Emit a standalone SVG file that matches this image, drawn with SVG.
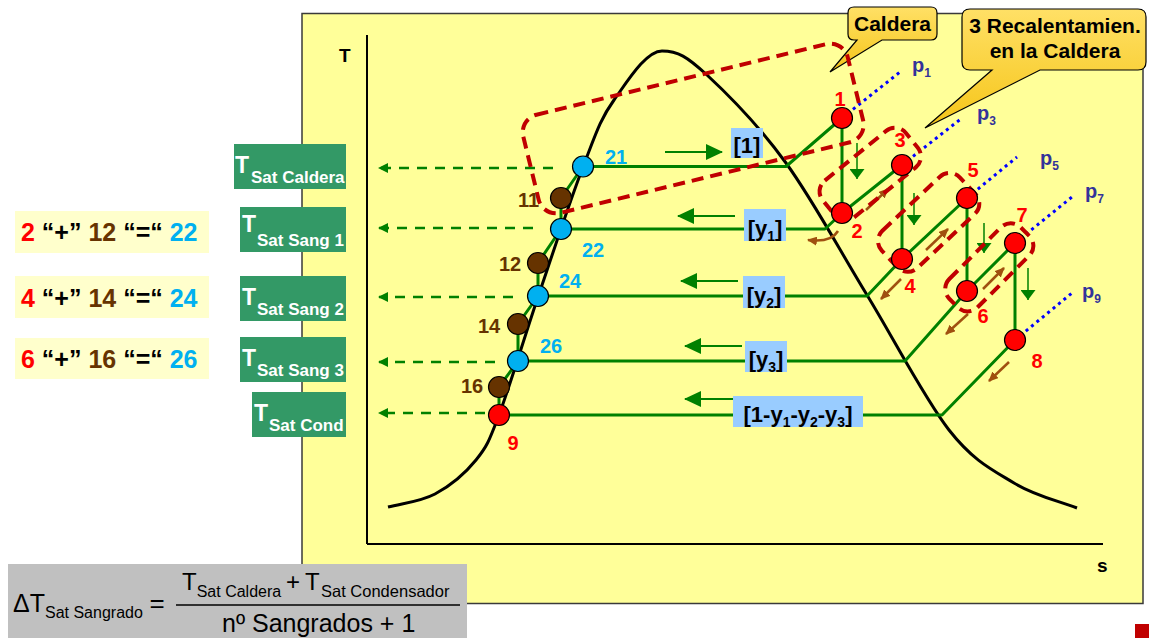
<svg xmlns="http://www.w3.org/2000/svg" width="1149" height="638" viewBox="0 0 1149 638">
<defs>
<style>
.t{font-family:"Liberation Sans",Arial,sans-serif;font-weight:bold}
.f{font-family:"Liberation Sans",Arial,sans-serif}
.cyc{stroke:#008000;stroke-width:3;fill:none;stroke-linejoin:round}
.dash{stroke:#008000;stroke-width:2.5;stroke-dasharray:10 8;fill:none;marker-end:url(#dah)}
.rbox{fill:none;stroke:#c00000;stroke-width:4;stroke-dasharray:12 7}
.iso{stroke:#0000ff;stroke-width:3;stroke-dasharray:3 4;fill:none}
.pR{fill:#ff0000;stroke:#000;stroke-width:1.2}
.pB{fill:#00b0f0;stroke:#000;stroke-width:1.2}
.pN{fill:#663300;stroke:#000;stroke-width:1.2}
.garr{stroke:#008000;stroke-width:2;fill:none;marker-end:url(#gah)}
.vdn{stroke:#008000;stroke-width:1.5;fill:none;marker-end:url(#gdn)}
.barr{stroke:#a0500f;stroke-width:2.5;fill:none;marker-end:url(#bah)}
.lbl{fill:#99ccff}
.tsat{fill:#339966}
.tw{fill:#ffffff}
.red{fill:#ff0000}
.blu{fill:#00b0f0}
.brn{fill:#663300}
.pl{fill:#333399}
.eq{fill:#ffffcc}
.call{fill:url(#gold);stroke:#000;stroke-width:1.2}
</style>
<linearGradient id="gold" x1="0" y1="0" x2="0" y2="1">
<stop offset="0" stop-color="#ffe066"/>
<stop offset="1" stop-color="#f5c518"/>
</linearGradient>
<marker id="gah" viewBox="0 0 17 16" refX="16" refY="8" markerWidth="17" markerHeight="16" markerUnits="userSpaceOnUse" orient="auto">
<path d="M0,0 L17,8 L0,16 Z" fill="#008000"/>
</marker>
<marker id="gdn" viewBox="0 0 10 15" refX="10" refY="7.5" markerWidth="10" markerHeight="15" markerUnits="userSpaceOnUse" orient="auto">
<path d="M0,0 L10,7.5 L0,15 Z" fill="#008000"/>
</marker>
<marker id="bah" viewBox="0 0 10 9" refX="9" refY="4.5" markerWidth="10" markerHeight="9" markerUnits="userSpaceOnUse" orient="auto">
<path d="M0,0 L10,4.5 L0,9 Z" fill="#a0500f"/>
</marker>
<marker id="dah" viewBox="0 0 10 10" refX="9" refY="5" markerWidth="10" markerHeight="10" markerUnits="userSpaceOnUse" orient="auto">
<path d="M0,0 L10,5 L0,10 Z" fill="#008000"/>
</marker>
</defs>

<rect x="302" y="13.5" width="841" height="590" fill="#ffff99" stroke="#3a3a3a" stroke-width="1.5"/>

<g id="axes">
<line x1="367" y1="35" x2="367" y2="544" stroke="#000" stroke-width="2"/>
<line x1="367" y1="544" x2="1103" y2="544" stroke="#000" stroke-width="2"/>
<text class="t" x="339" y="62" font-size="19">T</text>
<text class="t" x="1097" y="572" font-size="19">s</text>
</g>

<g id="dome">
<path d="M388,507 C404,503 420.3,501.8 435,494 C449.7,486.2 465.3,473.2 476,460 C486.7,446.8 488.7,442.2 499,415 C509.3,387.8 524,338.3 538,297 C552,255.7 570.3,199.8 583,167 C595.7,134.2 600.2,119.2 614,100 C627.8,80.8 646,51 662,51 C678,51 687,56.5 707,75 C727,93.5 759.3,126.3 786,163 C812.7,199.7 839.8,250.5 867,295 C894.2,339.5 924.5,398.7 949,430 C973.5,461.3 992.7,470 1014,483 C1035.3,496 1056,500 1077,508" fill="none" stroke="#000" stroke-width="3"/>
</g>

<g id="connectors">
<path class="cyc" d="M583,166.5 H786 L842,118"/>
<path class="cyc" d="M842,118 V213"/>
<path class="cyc" d="M561,229 H825 L842,213"/>
<path class="cyc" d="M842,213 L902,165"/>
<path class="cyc" d="M902,165 V259"/>
<path class="cyc" d="M538,296 H867 L902,259"/>
<path class="cyc" d="M902,259 L967,198"/>
<path class="cyc" d="M967,198 V291"/>
<path class="cyc" d="M518,361 H905 L967,291"/>
<path class="cyc" d="M967,291 L1015,243"/>
<path class="cyc" d="M1015,243 V340"/>
<path class="cyc" d="M499,415 H942 L1015,340"/>
<path class="cyc" d="M499,415 V387 L518,361 V324 L538,296 V263 L561,229 V198 L583,166.5"/>
<path class="dash" d="M553,168 H379"/>
<path class="dash" d="M533,228 H379"/>
<path class="dash" d="M513,297 H379"/>
<path class="dash" d="M495,362 H379"/>
<path class="dash" d="M485,413 H379"/>
<path class="iso" d="M842,118 L900,72"/>
<path class="iso" d="M902,165 L962,118"/>
<path class="iso" d="M967,198 L1017,157"/>
<path class="iso" d="M1015,243 L1072,197"/>
<path class="iso" d="M1015,340 L1072,293"/>
<path class="garr" d="M665,152 H722"/>
<path class="garr" d="M735,216 H678"/>
<path class="garr" d="M738,281 H681"/>
<path class="garr" d="M742,346 H685"/>
<path class="garr" d="M735,399 H685"/>
<path class="vdn" d="M857,143 V179"/>
<path class="vdn" d="M914,193 V225"/>
<path class="vdn" d="M984,223 V253"/>
<path class="vdn" d="M1028,268 V300"/>
<path class="barr" d="M866,210 L888,189"/>
<path class="barr" d="M926,250 L948,229"/>
<path class="barr" d="M983,289 L1004,268"/>
<path class="barr" d="M901,279 L881,299"/>
<path class="barr" d="M968,314 L946,334"/>
<path class="barr" d="M1009,362 L989,381"/>
<path class="barr" d="M838,231 Q831,243 808,240"/>
</g>

<g id="callout-caldera">
<path class="call" d="M854,7 H931 Q937,7 937,13 V34 Q937,40 931,40 H882 L830,72 L857,40 H854 Q848,40 848,34 V13 Q848,7 854,7 Z"/>
<text class="t" x="892.5" y="31" font-size="21" text-anchor="middle">Caldera</text>
</g>
<g id="callout-recal">
<path class="call" d="M970,9 H1138 Q1146,9 1146,17 V62 Q1146,70 1138,70 H1040 L925,128 L992,70 H970 Q962,70 962,62 V17 Q962,9 970,9 Z"/>
<text class="t" x="1055" y="33" font-size="21" text-anchor="middle">3 Recalentamien.</text>
<text class="t" x="1055" y="58" font-size="21" text-anchor="middle">en la Caldera</text>
</g>

<g id="groups">
<rect class="rbox" x="0" y="0" width="334" height="101" rx="18" transform="translate(519,119) rotate(-13.7)"/>
<rect class="rbox" x="-7" y="-36" width="107" height="47" rx="14" transform="translate(842,213) rotate(-39)"/>
<rect class="rbox" x="-9" y="-34" width="107" height="51" rx="14" transform="translate(902,259) rotate(-43.2)"/>
<rect class="rbox" x="-18" y="-21" width="101" height="40" rx="14" transform="translate(967,291) rotate(-45)"/>
</g>

<g id="flow-labels">
<rect class="lbl" x="731" y="128" width="32" height="30"/>
<text class="t" x="747" y="153" font-size="22" text-anchor="middle">[1]</text>
<rect class="lbl" x="744" y="209" width="42" height="32"/>
<text class="t" x="765" y="236" font-size="22" text-anchor="middle">[y<tspan font-size="14" dy="5">1</tspan><tspan dy="-5">]</tspan></text>
<rect class="lbl" x="743" y="276" width="42" height="32"/>
<text class="t" x="764" y="303" font-size="22" text-anchor="middle">[y<tspan font-size="14" dy="5">2</tspan><tspan dy="-5">]</tspan></text>
<rect class="lbl" x="745" y="341" width="42" height="31"/>
<text class="t" x="766" y="367" font-size="22" text-anchor="middle">[y<tspan font-size="14" dy="5">3</tspan><tspan dy="-5">]</tspan></text>
<rect class="lbl" x="733" y="396" width="130" height="31"/>
<text class="t" x="798" y="422" font-size="22" text-anchor="middle">[1-y<tspan font-size="14" dy="5">1</tspan><tspan dy="-5">-y</tspan><tspan font-size="14" dy="5">2</tspan><tspan dy="-5">-y</tspan><tspan font-size="14" dy="5">3</tspan><tspan dy="-5">]</tspan></text>
</g>

<g id="p1"><circle class="pR" cx="842" cy="118" r="10.5"/><text class="t red" x="840" y="106" font-size="20" text-anchor="middle">1</text></g>
<g id="p2"><circle class="pR" cx="842" cy="213" r="10.5"/><text class="t red" x="857" y="238" font-size="20" text-anchor="middle">2</text></g>
<g id="p3"><circle class="pR" cx="902" cy="165" r="10.5"/><text class="t red" x="900" y="147" font-size="20" text-anchor="middle">3</text></g>
<g id="p4"><circle class="pR" cx="902" cy="259" r="10.5"/><text class="t red" x="910" y="293" font-size="20" text-anchor="middle">4</text></g>
<g id="p5"><circle class="pR" cx="967" cy="198" r="10.5"/><text class="t red" x="973" y="177" font-size="20" text-anchor="middle">5</text></g>
<g id="p6"><circle class="pR" cx="967" cy="291" r="10.5"/><text class="t red" x="983" y="323" font-size="20" text-anchor="middle">6</text></g>
<g id="p7"><circle class="pR" cx="1015" cy="243" r="10.5"/><text class="t red" x="1022" y="222" font-size="20" text-anchor="middle">7</text></g>
<g id="p8"><circle class="pR" cx="1015" cy="340" r="10.5"/><text class="t red" x="1037" y="368" font-size="20" text-anchor="middle">8</text></g>
<g id="p9"><circle class="pR" cx="499" cy="415" r="10.5"/><text class="t red" x="513" y="450" font-size="20" text-anchor="middle">9</text></g>
<g id="p21"><circle class="pB" cx="583" cy="166.5" r="10.5"/><text class="t blu" x="605" y="164" font-size="20">21</text></g>
<g id="p22"><circle class="pB" cx="561" cy="229" r="10.5"/><text class="t blu" x="582" y="257" font-size="20">22</text></g>
<g id="p24"><circle class="pB" cx="538" cy="296" r="10.5"/><text class="t blu" x="559" y="288" font-size="20">24</text></g>
<g id="p26"><circle class="pB" cx="518" cy="361" r="10.5"/><text class="t blu" x="540" y="353" font-size="20">26</text></g>
<g id="p11"><circle class="pN" cx="561" cy="198" r="10.5"/><text class="t brn" x="518" y="207" font-size="20">11</text></g>
<g id="p12"><circle class="pN" cx="538" cy="263" r="10.5"/><text class="t brn" x="499" y="271" font-size="20">12</text></g>
<g id="p14"><circle class="pN" cx="518" cy="324" r="10.5"/><text class="t brn" x="478" y="333" font-size="20">14</text></g>
<g id="p16"><circle class="pN" cx="499" cy="387" r="10.5"/><text class="t brn" x="461" y="393" font-size="20">16</text></g>

<g id="isobars-labels">
<text class="t pl" x="912" y="72" font-size="20">p<tspan font-size="12" dy="5">1</tspan></text>
<text class="t pl" x="977" y="120" font-size="20">p<tspan font-size="12" dy="5">3</tspan></text>
<text class="t pl" x="1040" y="165" font-size="20">p<tspan font-size="12" dy="5">5</tspan></text>
<text class="t pl" x="1085" y="198" font-size="20">p<tspan font-size="12" dy="5">7</tspan></text>
<text class="t pl" x="1082" y="298" font-size="20">p<tspan font-size="12" dy="5">9</tspan></text>
</g>

<g id="tsat-caldera"><rect class="tsat" x="234" y="144" width="112" height="45"/><text class="t tw" x="235" y="173" font-size="23">T</text><text class="t tw" x="251" y="183" font-size="17">Sat Caldera</text></g>
<g id="tsat-sang1"><rect class="tsat" x="240" y="207" width="106" height="45"/><text class="t tw" x="242" y="232" font-size="23">T</text><text class="t tw" x="257" y="246" font-size="17">Sat Sang 1</text></g>
<g id="tsat-sang2"><rect class="tsat" x="240" y="276" width="106" height="45"/><text class="t tw" x="242" y="305" font-size="23">T</text><text class="t tw" x="257" y="315" font-size="17">Sat Sang 2</text></g>
<g id="tsat-sang3"><rect class="tsat" x="240" y="337" width="106" height="45"/><text class="t tw" x="242" y="366" font-size="23">T</text><text class="t tw" x="257" y="376" font-size="17">Sat Sang 3</text></g>
<g id="tsat-cond"><rect class="tsat" x="252" y="392" width="94" height="45"/><text class="t tw" x="254" y="421" font-size="23">T</text><text class="t tw" x="269" y="431" font-size="17">Sat Cond</text></g>

<g id="eq1"><rect class="eq" x="15" y="211" width="194" height="42"/><text class="t" x="21" y="241" font-size="25"><tspan class="red">2</tspan> “+” <tspan class="brn">12</tspan> “=“ <tspan class="blu">22</tspan></text></g>
<g id="eq2"><rect class="eq" x="15" y="276" width="194" height="42"/><text class="t" x="21" y="307" font-size="25"><tspan class="red">4</tspan> “+” <tspan class="brn">14</tspan> “=“ <tspan class="blu">24</tspan></text></g>
<g id="eq3"><rect class="eq" x="15" y="338" width="194" height="41"/><text class="t" x="21" y="368" font-size="25"><tspan class="red">6</tspan> “+” <tspan class="brn">16</tspan> “=“ <tspan class="blu">26</tspan></text></g>

<g id="formula">
<rect x="8" y="564" width="459" height="74" fill="#c0c0c0"/>
<text class="f" x="13" y="612" font-size="25">ΔT<tspan font-size="16" dy="6">Sat Sangrado</tspan></text>
<text class="f" x="157" y="612" font-size="26" text-anchor="middle">=</text>
<line x1="176" y1="605" x2="460" y2="605" stroke="#000" stroke-width="1.5"/>
<text class="f" x="182" y="590" font-size="24">T<tspan font-size="16" dy="7">Sat Caldera</tspan><tspan x="286" dy="-7" font-size="24">+</tspan><tspan x="305" font-size="24">T</tspan><tspan x="321" font-size="16.5" dy="7">Sat Condensador</tspan></text>
<text class="f" x="222" y="632" font-size="25">nº Sangrados + 1</text>
</g>

<rect x="1135" y="624" width="14" height="14" fill="#c00000"/>
</svg>
